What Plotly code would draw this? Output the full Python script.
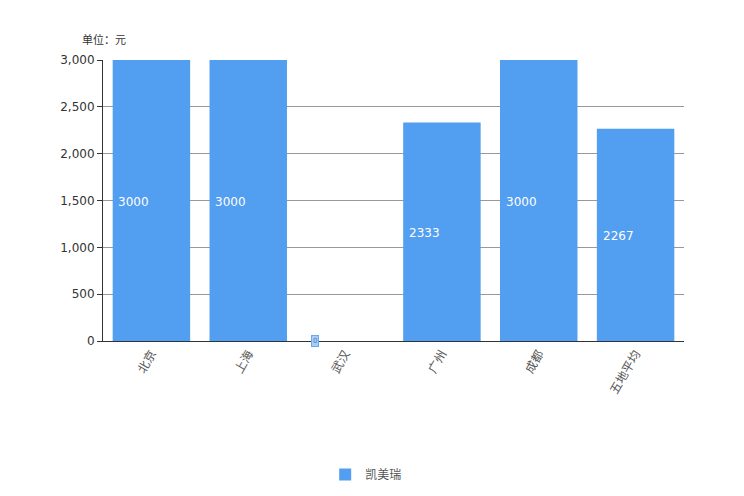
import plotly.graph_objects as go

categories = ["北京", "上海", "武汉", "广州", "成都", "五地平均"]
values = [3000, 3000, 0, 2333, 3000, 2267]
series_name = "凯美瑞"
unit_label = "单位：元"

bar_color = "#529EF0"
font_family = "Noto Sans CJK SC, Noto Sans, sans-serif"

fig = go.Figure()
fig.add_trace(go.Bar(
    x=categories, y=values, name=series_name,
    marker=dict(color=bar_color, line=dict(width=0)),
    width=0.8,
))

for c, v in zip(categories, values):
    if v > 0:
        fig.add_annotation(
            x=c, y=v / 2, text=str(v), showarrow=False,
            xanchor="left", xshift=-35, yshift=-1,
            font=dict(color="white", size=12, family="DejaVu Sans, sans-serif"),
        )
    else:
        # zero-value label drawn as a small badge at the bar's left edge
        fig.add_annotation(
            x=c, y=v, text=str(v), showarrow=False,
            xanchor="center", yanchor="middle", xshift=-30,
            font=dict(color="#3f7fcc", size=7, family="DejaVu Sans, sans-serif"),
            bgcolor="#A8CDF6", bordercolor="#6aa8ee", borderwidth=1, borderpad=1,
        )

fig.add_annotation(
    xref="paper", yref="paper", x=-0.04, y=1.04, xanchor="left", yanchor="bottom",
    text=unit_label, showarrow=False,
    font=dict(size=11, color="#333", family=font_family),
)

fig.update_layout(
    width=744, height=496,
    margin=dict(l=95, r=68, t=52, b=163),
    plot_bgcolor="white", paper_bgcolor="white",
    font=dict(family=font_family, size=11, color="#555"),
    bargap=0.2,
    showlegend=True,
    legend=dict(orientation="h", x=0.453, xanchor="center", y=-0.475, yanchor="middle",
                font=dict(size=12, color="#555")),
    xaxis=dict(
        showline=True, linecolor="#333", linewidth=1, tickangle=-60,
        ticks="", showgrid=False, tickfont=dict(size=12, color="#555"),
    ),
    yaxis=dict(
        range=[0, 3000], tickvals=[0, 500, 1000, 1500, 2000, 2500, 3000],
        tickformat=",", showline=True, linecolor="#333", linewidth=1,
        ticks="outside", ticklen=5, tickcolor="#333",
        showgrid=True, gridcolor="#999", gridwidth=1,
        zeroline=False, tickfont=dict(size=12, color="#333", family="DejaVu Sans, sans-serif"),
    ),
)

fig.write_html("out.html")
